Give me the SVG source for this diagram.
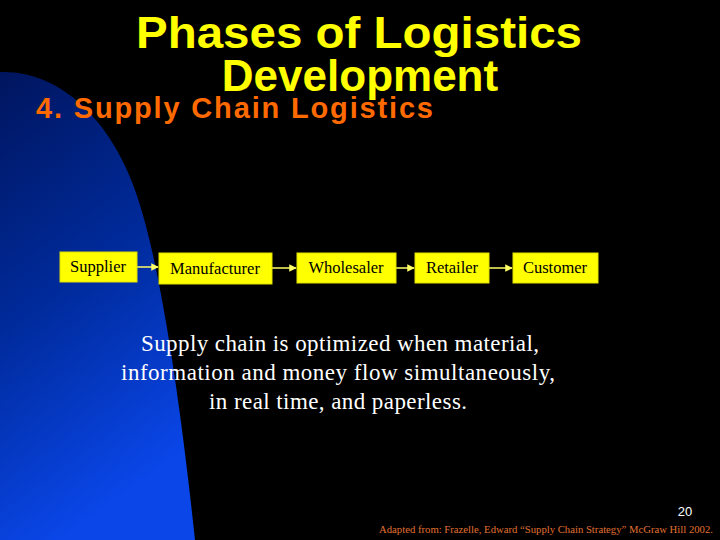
<svg xmlns="http://www.w3.org/2000/svg" width="720" height="540" viewBox="0 0 720 540">
<defs>
<linearGradient id="bg" x1="0" y1="0" x2="0.3" y2="1">
<stop offset="0" stop-color="#00155e"/>
<stop offset="0.5" stop-color="#002a9a"/>
<stop offset="1" stop-color="#0a46e8"/>
</linearGradient>
<marker id="ar" viewBox="0 0 10 10" refX="9" refY="5" markerWidth="5" markerHeight="5" orient="auto"><path d="M0,0 L10,5 L0,10 z" fill="#ffff66"/></marker>
</defs>
<style>
.box{fill:#ffff00;stroke:#e0e000;stroke-width:1}
.lbl{font-family:"Liberation Serif",serif;font-size:16.5px;fill:#000;text-anchor:middle}
.con{stroke:#ffff66;stroke-width:1.5;fill:none;marker-end:url(#ar)}
.title{font-family:"Liberation Sans",Arial,sans-serif;font-weight:bold;fill:#ffff00}
</style>
<rect width="720" height="540" fill="#000"/>
<path d="M0,72 C60,70 110,120 135,190 C160,260 180,400 195,540 L0,540 Z" fill="url(#bg)"/>
<text class="title" x="359" y="48" font-size="44" text-anchor="middle" textLength="446" lengthAdjust="spacingAndGlyphs">Phases of Logistics</text>
<text class="title" x="360" y="91" font-size="44" text-anchor="middle">Development</text>
<text class="title" x="36" y="118" font-size="29" style="fill:#ff6a00" textLength="397" lengthAdjust="spacing">4.  Supply Chain Logistics</text>
<g id="connectors">
<line class="con" x1="137" y1="267" x2="158" y2="267"/>
<line class="con" x1="272" y1="268" x2="296" y2="268"/>
<line class="con" x1="396" y1="268" x2="414" y2="268"/>
<line class="con" x1="489" y1="268" x2="512" y2="268"/>
</g>
<g id="supplier"><rect class="box" x="60" y="252" width="77" height="30"/><text class="lbl" x="98" y="272">Supplier</text></g>
<g id="manufacturer"><rect class="box" x="159" y="253" width="113" height="31"/><text class="lbl" x="215" y="274">Manufacturer</text></g>
<g id="wholesaler"><rect class="box" x="297" y="253" width="99" height="30"/><text class="lbl" x="346" y="273">Wholesaler</text></g>
<g id="retailer"><rect class="box" x="415" y="253" width="74" height="30"/><text class="lbl" x="452" y="273">Retailer</text></g>
<g id="customer"><rect class="box" x="513" y="253" width="85" height="30"/><text class="lbl" x="555" y="273">Customer</text></g>
<g font-family="Liberation Serif,serif" font-size="23" fill="#fff" text-anchor="middle">
<text x="340" y="351" textLength="398" lengthAdjust="spacing">Supply chain is optimized when material,</text>
<text x="338" y="380" textLength="434" lengthAdjust="spacing">information and money flow simultaneously,</text>
<text x="338" y="409" textLength="258" lengthAdjust="spacing">in real time,  and paperless.</text>
</g>
<text x="685" y="516" font-family="Liberation Sans,sans-serif" font-size="13" fill="#fff" text-anchor="middle">20</text>
<text x="546" y="533" font-family="Liberation Serif,serif" font-size="10.7" fill="#e07030" text-anchor="middle">Adapted from: Frazelle, Edward  “Supply Chain Strategy” McGraw Hill 2002.</text>
</svg>
